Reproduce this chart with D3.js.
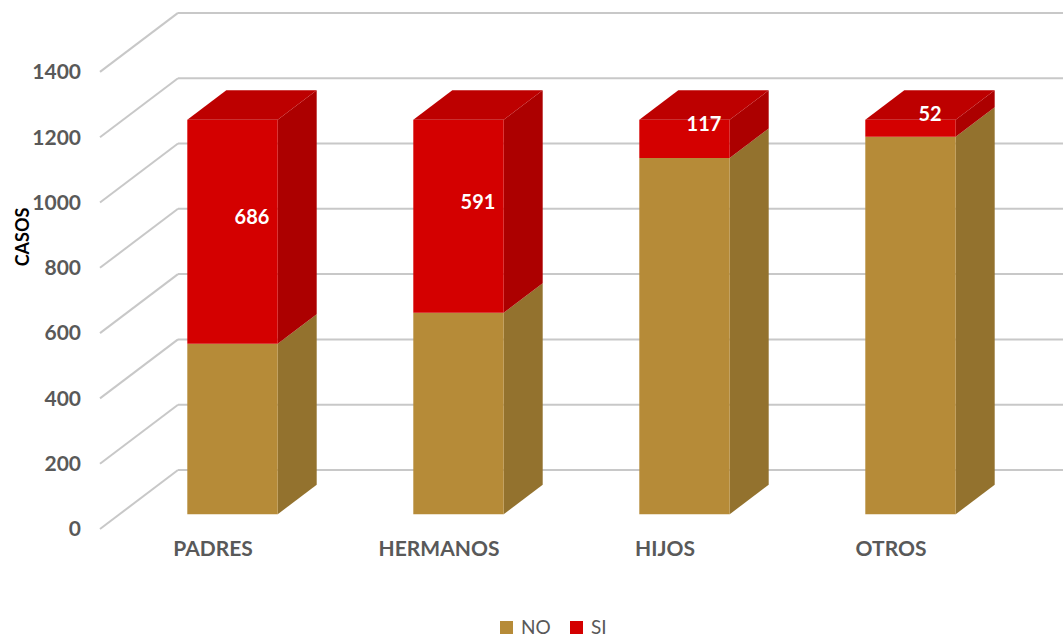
<!DOCTYPE html>
<html>
<head>
<meta charset="utf-8">
<script src="https://cdn.jsdelivr.net/npm/d3@7"></script>
<style>
  html, body { margin: 0; padding: 0; background: #fff; }
  svg { display: block; }
</style>
</head>
<body>
<svg id="chart" width="1063" height="638"></svg>
<script>
const categories = ["PADRES", "HERMANOS", "HIJOS", "OTROS"];
const noValues = [522, 617, 1091, 1156];
const siValues = [686, 591, 117, 52];
const yTicks = [0, 200, 400, 600, 800, 1000, 1200, 1400];
const seriesNames = ["NO", "SI"];

const W = 1063, H = 638;
const svg = d3.select("#chart");

// 3D geometry
const depthX = 78, depthY = -59;        // full depth offset of the floor
const barD0 = 0.25, barD1 = 0.75;       // bars occupy the middle of the depth

const y = d3.scaleLinear().domain([0, 1400]).range([529, 529 - 1400 * 0.3265]);
const x = d3.scaleBand().domain(categories).range([100, 1004])
  .paddingInner(0.6).paddingOuter(0.3);

const P = (px, v, d) => [px + depthX * d, y(v) + depthY * d];
const poly = pts => "M" + pts.map(p => p[0].toFixed(2) + "," + p[1].toFixed(2)).join("L") + "Z";

const colors = {
  NO: { front: "#B68B38", side: "#93722E", top: "#A57E33" },
  SI: { front: "#D40000", side: "#AC0000", top: "#BD0000" }
};
const gridColor = "#C8C8C8";
const textGray = "#595959";
const font = "Lato, 'Open Sans', sans-serif";

// gridlines: back wall horizontals + side wall diagonals
const grid = svg.append("g");
yTicks.forEach(t => {
  const b = P(100, t, 1);
  const f = P(100, t, 0);
  grid.append("line").attr("x1", b[0]).attr("y1", b[1]).attr("x2", W + 5).attr("y2", b[1])
    .attr("stroke", gridColor).attr("stroke-width", 2);
  grid.append("line").attr("x1", f[0]).attr("y1", f[1]).attr("x2", b[0]).attr("y2", b[1])
    .attr("stroke", gridColor).attr("stroke-width", 2);
});

// y tick labels
svg.append("g").selectAll("text").data(yTicks).join("text")
  .attr("x", 81).attr("y", d => y(d)).attr("dy", "0.35em")
  .attr("text-anchor", "end")
  .attr("font-family", font).attr("font-weight", "bold").attr("font-size", 21)
  .attr("fill", textGray).text(d => d);

// y axis title
svg.append("text")
  .attr("transform", "translate(29,237) rotate(-90)")
  .attr("text-anchor", "middle")
  .attr("font-family", font).attr("font-weight", "bold").attr("font-size", 18)
  .attr("fill", "#000").text("CASOS");

// bars
const stacked = categories.map((c, i) => {
  const segs = [
    { name: "NO", v0: 0, v1: noValues[i], val: noValues[i] },
    { name: "SI", v0: noValues[i], v1: noValues[i] + siValues[i], val: siValues[i] }
  ];
  return { cat: c, segs };
});

const bars = svg.append("g");
stacked.forEach(st => {
  const x0 = x(st.cat), x1 = x0 + x.bandwidth();
  const g = bars.append("g");
  st.segs.forEach((s, k) => {
    const col = colors[s.name];
    // right side face
    g.append("path").attr("d", poly([P(x1, s.v0, barD0), P(x1, s.v0, barD1), P(x1, s.v1, barD1), P(x1, s.v1, barD0)]))
      .attr("fill", col.side);
    // front face
    g.append("path").attr("d", poly([P(x0, s.v0, barD0), P(x1, s.v0, barD0), P(x1, s.v1, barD0), P(x0, s.v1, barD0)]))
      .attr("fill", col.front);
    if (k === st.segs.length - 1) {
      g.append("path").attr("d", poly([P(x0, s.v1, barD0), P(x1, s.v1, barD0), P(x1, s.v1, barD1), P(x0, s.v1, barD1)]))
        .attr("fill", col.top);
    }
  });
  // data label for SI at center of its box
  const s = st.segs[1];
  const c = P((x0 + x1) / 2, (s.v0 + s.v1) / 2, (barD0 + barD1) / 2);
  bars.append("text").attr("x", c[0]).attr("y", c[1]).attr("dy", "0.35em")
    .attr("text-anchor", "middle")
    .attr("font-family", font).attr("font-weight", "bold").attr("font-size", 20)
    .attr("fill", "#fff").text(s.val);
});

// category labels
svg.append("g").selectAll("text").data(categories).join("text")
  .attr("x", d => x(d) + x.bandwidth() / 2).attr("y", 549).attr("dy", "0.35em")
  .attr("text-anchor", "middle")
  .attr("font-family", font).attr("font-weight", "bold").attr("font-size", 21)
  .attr("fill", textGray).text(d => d);

// legend
const legend = svg.append("g");
const legendPos = [{ name: "NO", x: 500 }, { name: "SI", x: 570 }];
legendPos.forEach(l => {
  legend.append("rect").attr("x", l.x).attr("y", 621).attr("width", 13).attr("height", 13)
    .attr("fill", colors[l.name].front);
  legend.append("text").attr("x", l.x + 21).attr("y", 634)
    .attr("font-family", font).attr("font-size", 19).attr("fill", textGray).text(l.name);
});
</script>
</body>
</html>
